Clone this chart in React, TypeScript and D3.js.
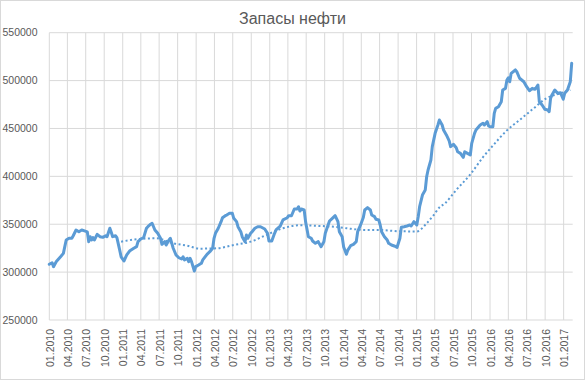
import React from 'react';
import * as d3 from 'd3';

const title = 'Запасы нефти';
const yTicks = [250000, 300000, 350000, 400000, 450000, 500000, 550000];
const xTickLabels = [
  '01.2010', '04.2010', '07.2010', '10.2010', '01.2011', '04.2011', '07.2011', '10.2011',
  '01.2012', '04.2012', '07.2012', '10.2012', '01.2013', '04.2013', '07.2013', '10.2013',
  '01.2014', '04.2014', '07.2014', '10.2014', '01.2015', '04.2015', '07.2015', '10.2015',
  '01.2016', '04.2016', '07.2016', '10.2016', '01.2017',
];

// weeks since 01.01.2010 (weekly Friday reports)
const weeks = [
  0, 2, 3, 5, 8, 10, 11, 12, 14, 16,
  17, 19, 21, 23, 25, 27, 28, 29, 30, 31,
  32, 34, 36, 38, 40, 41, 43, 44, 45, 47,
  48, 50, 51, 53, 55, 57, 60, 62, 63, 65,
  67, 69, 70, 72, 73, 75, 77, 79, 80, 82,
  83, 85, 86, 88, 90, 92, 94, 95, 96, 98,
  99, 100, 101, 103, 104, 106, 108, 109, 112, 114,
  116, 117, 118, 120, 122, 123, 125, 126, 128, 130,
  131, 133, 134, 136, 137, 139, 140, 141, 143, 144,
  146, 148, 150, 152, 153, 155, 156, 158, 160, 161,
  164, 166, 169, 170, 172, 174, 176, 177, 178, 179,
  181, 182, 184, 186, 187, 189, 191, 193, 195, 196,
  198, 199, 201, 203, 205, 206, 208, 209, 211, 212,
  214, 216, 218, 219, 221, 223, 224, 226, 228, 229,
  231, 232, 234, 235, 236, 238, 240, 241, 243, 245,
  247, 249, 250, 252, 254, 256, 257, 259, 261, 262,
  263, 265, 267, 268, 269, 271, 272, 274, 276, 277,
  279, 280, 282, 284, 285, 287, 289, 290, 292, 294,
  295, 297, 299, 300, 302, 303, 306, 308, 309, 311,
  312, 313, 315, 316, 317, 319, 321, 322, 324, 325,
  326, 327, 328, 331, 332, 334, 337, 339, 341, 343,
  345, 347, 348, 350, 352, 354, 355, 356, 357, 359,
  361, 363, 365, 366, 368, 370, 371,
];

const stocks = [
  308200, 309800, 305700, 311000, 316000, 319600, 326600, 333500, 335300, 335300,
  338000, 344000, 342200, 344000, 343000, 342000, 331800, 337000, 333500, 336000,
  333500, 339500, 337000, 336300, 338000, 337000, 345800, 341600, 337000, 338000,
  336000, 323000, 316000, 311600, 317900, 322000, 324900, 326600, 331800, 334600,
  336000, 345800, 347400, 350000, 351000, 344000, 340500, 335300, 329000, 331800,
  328300, 333500, 335300, 324900, 317900, 315000, 313700, 316000, 312700, 314400,
  310900, 314400, 310900, 301200, 305700, 307400, 309200, 312700, 318600, 321300,
  324900, 335300, 340500, 345800, 352700, 356800, 358900, 359600, 361400, 361400,
  356200, 352700, 347400, 342200, 337000, 331800, 338700, 335300, 340500, 342200,
  345800, 347400, 347400, 345800, 345000, 340500, 332500, 332500, 340500, 344000,
  348000, 354500, 356800, 358900, 358900, 365900, 365900, 368300, 363800, 365900,
  364900, 352700, 337000, 335300, 332500, 330100, 331800, 326600, 331800, 340500,
  349200, 353400, 356200, 358900, 352700, 342200, 337000, 326600, 318600, 323000,
  327600, 329000, 331800, 342200, 349000, 357000, 364900, 367300, 364900, 359600,
  357900, 355200, 354400, 349200, 342200, 337000, 333500, 330100, 328300, 327300,
  325900, 335300, 346800, 347400, 348200, 349200, 348200, 352700, 349200, 357900,
  368300, 380500, 385800, 399600, 406600, 417100, 431000, 444900, 453600, 458800,
  453600, 448400, 443200, 437000, 431000, 433500, 429900, 425700, 424000, 419800,
  425700, 424000, 422300, 434500, 444900, 448400, 453600, 455400, 453600, 457100,
  452600, 451800, 451800, 465800, 471000, 472700, 477900, 490200, 491900, 500600,
  503000, 498800, 507600, 511100, 509300, 502400, 498800, 493600, 489400, 491900,
  490900, 495400, 477900, 474500, 470000, 469300, 467500, 481500, 485000, 490200,
  486700, 487400, 480500, 486700, 490200, 498800, 518000,
];

// dotted moving-average trendline
const trendWeeks = [
  51, 64, 76, 88, 98, 107, 119, 131, 143, 154,
  166, 178, 187, 202, 211, 225, 235, 249, 261, 268,
  273, 277, 281, 289, 299, 308, 315, 325, 334, 344,
  353, 363, 370,
];
const trendValues = [
  331800, 334600, 335300, 330100, 327600, 324500, 324900, 328300, 331800, 338700,
  345800, 349000, 348500, 347400, 345800, 344000, 344000, 342600, 342500, 351000,
  359600, 367500, 371800, 385800, 402000, 420000, 432000, 448000, 458800, 471000,
  481500, 486700, 490200,
];

const W = 585;
const H = 380;
const FONT = "'Liberation Sans', Arial, sans-serif";
const GRID = '#D9D9D9';
const TEXT = '#595959';
const BLUE = '#5B9BD5';

export default function App() {
  const start = new Date(2010, 0, 1);
  const end = new Date(2017, 1, 15);
  const x = d3.scaleTime().domain([start, end]).range([49.3, 572.7]);
  const y = d3.scaleLinear().domain([250000, 550000]).range([320, 32.7]);
  const parseTick = d3.timeParse('%m.%Y');
  const weekDate = (w: number) => d3.timeDay.offset(start, w * 7);

  const mainPts: [Date, number][] = weeks.map((w, i) => [weekDate(w), stocks[i]]);
  const trendPts: [Date, number][] = trendWeeks.map((w, i) => [weekDate(w), trendValues[i]]);

  const line = d3
    .line<[Date, number]>()
    .x((d) => x(d[0]))
    .y((d) => y(d[1]))
    .curve(d3.curveLinear);
  const trendLine = d3
    .line<[Date, number]>()
    .x((d) => x(d[0]))
    .y((d) => y(d[1]))
    .curve(d3.curveMonotoneX);

  const [x0, x1] = x.range();
  const [yBottom, yTop] = y.range();

  return (
    <svg
      width={W}
      height={H}
      style={{ position: 'fixed', left: 0, top: 0, background: '#fff' }}
      fontFamily={FONT}
    >
      <rect x={0.5} y={0.5} width={W - 1} height={H - 1} fill="#fff" stroke={GRID} />
      <text x={W / 2} y={24} textAnchor="middle" fontSize={16} fill={TEXT}>
        {title}
      </text>
      {yTicks.map((t) => (
        <g key={t}>
          <line x1={x0} x2={x1} y1={y(t)} y2={y(t)} stroke={GRID} strokeWidth={1} />
          <text x={37.5} y={y(t)} dy="0.35em" textAnchor="end" fontSize={10.5} fill={TEXT}>
            {t}
          </text>
        </g>
      ))}
      {xTickLabels.map((lab) => {
        const xv = x(parseTick(lab) as Date);
        return (
          <g key={lab}>
            <line x1={xv} x2={xv} y1={yTop} y2={yBottom} stroke={GRID} strokeWidth={1} />
            <text
              transform={`translate(${xv + 0.8},${329}) rotate(-90)`}
              textAnchor="end"
              dy="0.35em"
              fontSize={10.5}
              fill={TEXT}
            >
              {lab}
            </text>
          </g>
        );
      })}
      <path
        d={trendLine(trendPts) || ''}
        fill="none"
        stroke={BLUE}
        strokeWidth={2}
        strokeDasharray="2 2.5"
      />
      <path
        d={line(mainPts) || ''}
        fill="none"
        stroke={BLUE}
        strokeWidth={3}
        strokeLinejoin="round"
        strokeLinecap="round"
      />
    </svg>
  );
}
